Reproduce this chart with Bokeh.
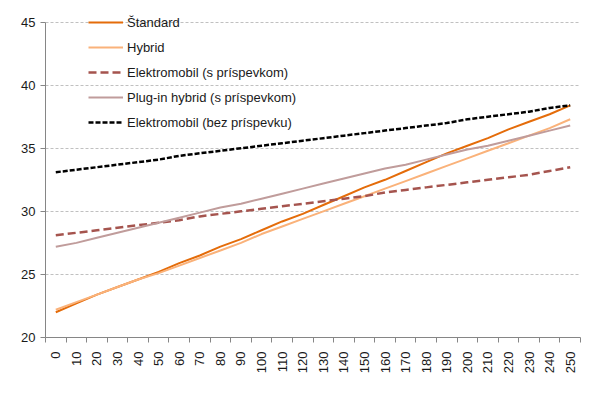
import math
from bokeh.plotting import figure
from bokeh.models import Range1d, FixedTicker, Legend, LegendItem
from bokeh.embed import file_html
from bokeh.resources import INLINE

distance = [0, 10, 20, 30, 40, 50, 60, 70, 80, 90, 100, 110, 120, 130, 140, 150,
            160, 170, 180, 190, 200, 210, 220, 230, 240, 250]

standard = [22.0, 22.7, 23.4, 24.0, 24.6, 25.2, 25.9, 26.5, 27.2, 27.8, 28.5, 29.2, 29.8,
            30.5, 31.2, 31.9, 32.5, 33.2, 33.9, 34.6, 35.2, 35.8, 36.5, 37.1, 37.7, 38.4]
hybrid = [22.2, 22.8, 23.4, 24.0, 24.6, 25.1, 25.7, 26.3, 26.9, 27.5, 28.2, 28.8, 29.4,
          30.0, 30.6, 31.2, 31.8, 32.4, 33.0, 33.6, 34.2, 34.8, 35.4, 36.0, 36.6, 37.3]
ev_subsidy = [28.1, 28.3, 28.5, 28.7, 28.9, 29.1, 29.3, 29.6, 29.8, 30.0, 30.2, 30.4, 30.6,
              30.8, 31.0, 31.2, 31.5, 31.7, 31.9, 32.1, 32.3, 32.5, 32.7, 32.9, 33.2, 33.5]
plugin_subsidy = [27.2, 27.5, 27.9, 28.3, 28.7, 29.1, 29.5, 29.9, 30.3, 30.6, 31.0, 31.4, 31.8,
                  32.2, 32.6, 33.0, 33.4, 33.7, 34.1, 34.5, 34.9, 35.2, 35.6, 36.0, 36.4, 36.8]
ev_no_subsidy = [33.1, 33.3, 33.5, 33.7, 33.9, 34.1, 34.4, 34.6, 34.8, 35.0, 35.2, 35.4, 35.6,
                 35.8, 36.0, 36.2, 36.4, 36.6, 36.8, 37.0, 37.3, 37.5, 37.7, 37.9, 38.2, 38.4]

series_names = ["Štandard", "Hybrid", "Elektromobil (s príspevkom)",
                "Plug-in hybrid (s príspevkom)", "Elektromobil (bez príspevku)"]
y_ticks = [20, 25, 30, 35, 40, 45]

FONT = "Liberation Sans"

p = figure(width=585, height=385, output_backend="svg", toolbar_location=None,
           x_range=Range1d(-5, 255), y_range=Range1d(20, 46),
           min_border_left=45, min_border_right=5, min_border_top=9, min_border_bottom=48)
p.outline_line_color = None
p.background_fill_color = "white"
p.border_fill_color = "white"

# axes
p.xaxis.ticker = FixedTicker(ticks=distance, minor_ticks=[d - 5 for d in distance] + [distance[-1] + 5])
p.xaxis.major_tick_out = 0
p.xaxis.major_tick_in = 0
p.xaxis.minor_tick_out = 5
p.xaxis.minor_tick_in = 0
p.xaxis.minor_tick_line_color = "#868686"
p.xaxis.axis_line_color = "#868686"
p.xaxis.major_label_orientation = math.pi / 2
p.xaxis.major_label_standoff = 9
p.xaxis.major_label_text_font = FONT
p.xaxis.major_label_text_font_size = "13px"
p.xaxis.major_label_text_color = "#1a1a1a"

p.yaxis.ticker = FixedTicker(ticks=y_ticks)
p.yaxis.bounds = (20, 45)
p.yaxis.minor_tick_line_color = None
p.yaxis.major_tick_out = 5
p.yaxis.major_tick_in = 0
p.yaxis.major_tick_line_color = "#868686"
p.yaxis.axis_line_color = "#868686"
p.yaxis.major_label_standoff = 5
p.yaxis.major_label_text_font = FONT
p.yaxis.major_label_text_font_size = "13px"
p.yaxis.major_label_text_color = "#1a1a1a"

p.xgrid.grid_line_color = None
p.ygrid.ticker = FixedTicker(ticks=y_ticks[1:])
p.ygrid.grid_line_color = "#C0C0C0"
p.ygrid.grid_line_dash = "3 2"
p.ygrid.grid_line_width = 1

r1 = p.line(distance, standard, line_color="#E46C0A", line_width=2)
r2 = p.line(distance, hybrid, line_color="#FAB27A", line_width=2)
r3 = p.line(distance, ev_subsidy, line_color="#A5544E", line_width=2.5, line_dash="8 4")
r4 = p.line(distance, plugin_subsidy, line_color="#C09C9B", line_width=2)
r5 = p.line(distance, ev_no_subsidy, line_color="#000000", line_width=2.5, line_dash="5 2")

legend = Legend(items=[LegendItem(label=n, renderers=[r]) for n, r in
                       zip(series_names, [r1, r2, r3, r4, r5])],
                location=(43, 205), border_line_color=None, background_fill_alpha=0,
                padding=0, margin=0, spacing=5, glyph_width=35, glyph_height=20,
                label_height=20, label_standoff=4,
                label_text_font=FONT, label_text_font_size="13px", label_text_color="#1a1a1a")
p.add_layout(legend, "center")

open("out.html", "w").write(file_html(p, INLINE))
